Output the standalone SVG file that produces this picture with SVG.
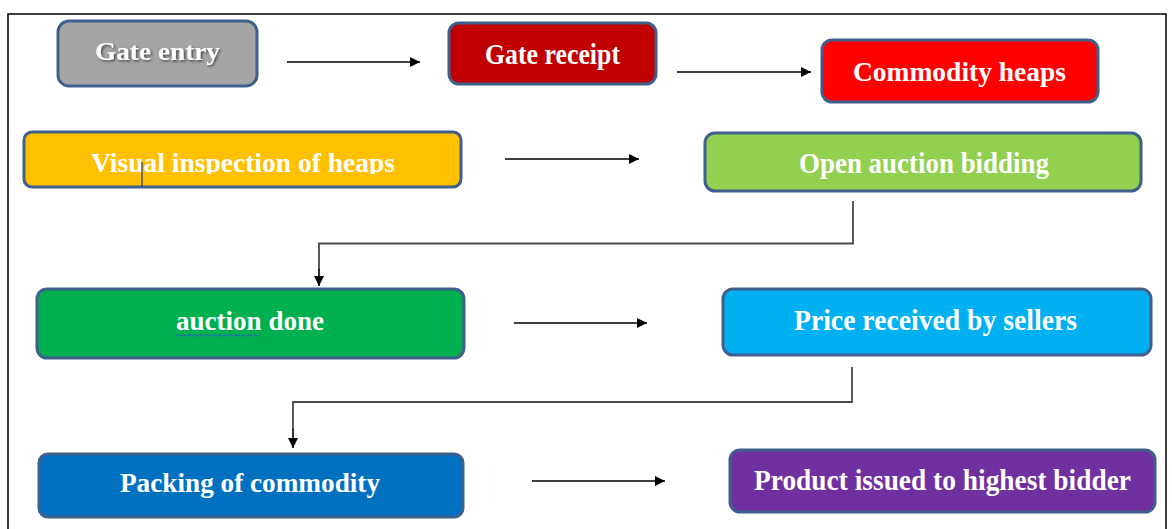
<svg xmlns="http://www.w3.org/2000/svg" width="1172" height="529" viewBox="0 0 1172 529">
  <style>
    .box { stroke: #3f5f8c; stroke-width: 3; }
    .lbl { font-family: "Liberation Serif", "Times New Roman", serif; font-weight: bold; fill: #ffffff; text-anchor: middle; }
    .flow { stroke: #000000; stroke-width: 1.6; fill: none; }
    .elbow { stroke: #4a4a4a; stroke-width: 1.8; fill: none; }
    .frame { stroke: #000000; stroke-width: 1.5; fill: none; }
  </style>
  <defs>
    <marker id="arrow" viewBox="0 0 10 10" refX="10" refY="5" markerWidth="12" markerHeight="10" markerUnits="userSpaceOnUse" orient="auto">
      <path d="M0,0 L10,5 L0,10 z" fill="#000000"/>
    </marker>
    <filter id="txtShadow" x="-10%" y="-30%" width="130%" height="160%">
      <feDropShadow dx="1.5" dy="1.5" stdDeviation="0.8" flood-color="#404040" flood-opacity="0.9"/>
    </filter>
    <clipPath id="clipVisual">
      <rect x="24" y="132" width="437" height="42"/>
    </clipPath>
  </defs>

  <rect width="1172" height="529" fill="#ffffff"/>

  <!-- outer frame -->
  <path class="frame" d="M8,529 V14 H1166 V529"/>

  <g id="node-gate-entry">
    <rect class="box" x="58" y="21" width="199" height="65" rx="11" fill="#a5a5a5"/>
    <text class="lbl" x="157.5" y="60" font-size="26" textLength="125" lengthAdjust="spacingAndGlyphs" filter="url(#txtShadow)" fill="#f2f2f2">Gate entry</text>
  </g>

  <g id="node-gate-receipt">
    <rect class="box" x="449" y="23" width="207" height="61" rx="10" fill="#c00000"/>
    <text class="lbl" x="552.5" y="64" font-size="30" textLength="135" lengthAdjust="spacingAndGlyphs">Gate receipt</text>
  </g>

  <g id="node-commodity-heaps">
    <rect class="box" x="822" y="40" width="276" height="62" rx="10" fill="#ff0000"/>
    <text class="lbl" x="959.5" y="81" font-size="27" textLength="213" lengthAdjust="spacingAndGlyphs">Commodity heaps</text>
  </g>

  <g id="node-visual-inspection">
    <rect class="box" x="24" y="132" width="437" height="55" rx="8" fill="#ffc000"/>
    <text class="lbl" x="243" y="172" font-size="27" textLength="304" lengthAdjust="spacingAndGlyphs" clip-path="url(#clipVisual)">Visual inspection of heaps</text>
    <line x1="142" y1="162" x2="142" y2="187" stroke="#1f3a5a" stroke-width="1.2"/>
  </g>

  <g id="node-open-auction">
    <rect class="box" x="705" y="133" width="436" height="58" rx="10" fill="#92d050"/>
    <text class="lbl" x="924" y="173" font-size="29" textLength="250" lengthAdjust="spacingAndGlyphs">Open auction bidding</text>
  </g>

  <g id="node-auction-done">
    <rect class="box" x="37" y="289" width="427" height="69" rx="10" fill="#00b050"/>
    <text class="lbl" x="250" y="330" font-size="28" textLength="148" lengthAdjust="spacingAndGlyphs">auction done</text>
    <path d="M176,335.5 q1.5,-1.5 3,0 t3,0 t3,0 t3,0 t3,0 t3,0 t3,0 t3,0 t3,0 t3,0 t3,0 t3,0 t3,0 t3,0 t3,0 t3,0 t3,0 t3,0 t3,0 t3,0 t3,0 t3,0 t3,0 t3,0 t3,0 t3,0 t3,0 t3,0" fill="none" stroke="#2e5cc8" stroke-width="1"/>
  </g>

  <g id="node-price-received">
    <rect class="box" x="723" y="289" width="428" height="66" rx="10" fill="#00b0f0"/>
    <text class="lbl" x="935.5" y="330" font-size="29" textLength="283" lengthAdjust="spacingAndGlyphs">Price received by sellers</text>
  </g>

  <g id="node-packing">
    <rect class="box" x="39" y="454" width="424" height="63" rx="9" fill="#0070c0"/>
    <text class="lbl" x="250" y="492" font-size="28" textLength="260" lengthAdjust="spacingAndGlyphs">Packing of commodity</text>
  </g>

  <g id="node-product-issued">
    <rect class="box" x="730" y="450" width="425" height="62" rx="10" fill="#7030a0"/>
    <text class="lbl" x="942.5" y="490" font-size="29" textLength="377" lengthAdjust="spacingAndGlyphs">Product issued to highest bidder</text>
  </g>

  <g id="connectors">
    <line class="flow" x1="287" y1="62" x2="420" y2="62" marker-end="url(#arrow)"/>
    <line class="flow" x1="677" y1="72" x2="811" y2="72" marker-end="url(#arrow)"/>
    <line class="flow" x1="505" y1="159" x2="639" y2="159" marker-end="url(#arrow)"/>
    <path class="elbow" d="M853,201 V243.5 H319 V270"/>
    <line class="flow" x1="319" y1="269" x2="319" y2="286" marker-end="url(#arrow)"/>
    <line class="flow" x1="514" y1="323" x2="647" y2="323" marker-end="url(#arrow)"/>
    <path class="elbow" d="M852,367 V402 H293 V430"/>
    <line class="flow" x1="293" y1="429" x2="293" y2="448" marker-end="url(#arrow)"/>
    <line class="flow" x1="532" y1="481" x2="665" y2="481" marker-end="url(#arrow)"/>
  </g>
</svg>
